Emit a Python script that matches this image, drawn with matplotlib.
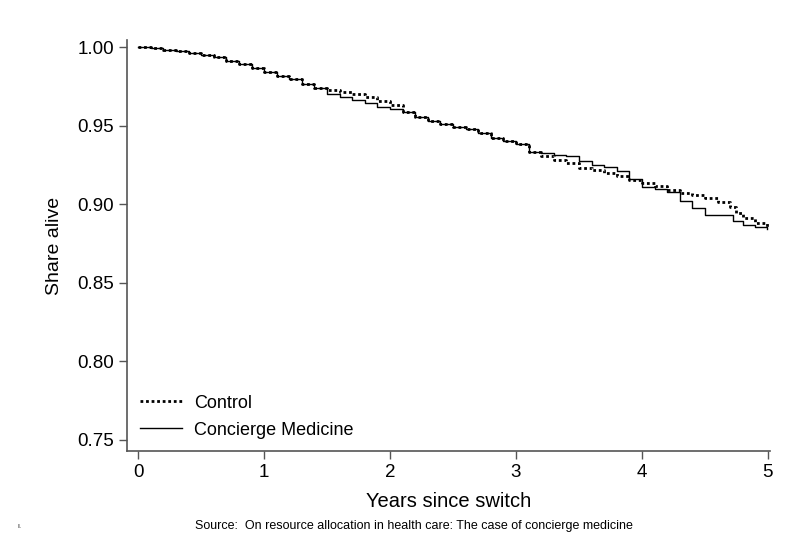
import matplotlib.pyplot as plt

# Survival curves (years since switch, share alive)
t_control = [0.00, 0.10, 0.20, 0.30, 0.40, 0.50, 0.60, 0.70, 0.80, 0.90,
             1.00, 1.10, 1.20, 1.30, 1.40, 1.50, 1.60, 1.70, 1.80, 1.90,
             2.00, 2.10, 2.20, 2.30, 2.40, 2.50, 2.60, 2.70, 2.80, 2.90,
             3.00, 3.10, 3.20, 3.30, 3.40, 3.50, 3.60, 3.70, 3.80, 3.90,
             4.00, 4.10, 4.20, 4.30, 4.40, 4.50, 4.60, 4.70, 4.75, 4.80,
             4.90, 4.99]
s_control = [1.0000, 0.9992, 0.9983, 0.9973, 0.9962, 0.9950, 0.9937, 0.9915, 0.9892, 0.9868,
             0.9845, 0.9820, 0.9795, 0.9768, 0.9740, 0.9725, 0.9712, 0.9700, 0.9680, 0.9660,
             0.9630, 0.9590, 0.9555, 0.9530, 0.9510, 0.9490, 0.9478, 0.9455, 0.9420, 0.9405,
             0.9385, 0.9330, 0.9305, 0.9285, 0.9265, 0.9232, 0.9220, 0.9200, 0.9178, 0.9155,
             0.9135, 0.9115, 0.9092, 0.9075, 0.9058, 0.9040, 0.9015, 0.8982, 0.8945, 0.8915,
             0.8880, 0.8840]

t_concierge = [0.00, 0.10, 0.20, 0.30, 0.40, 0.50, 0.60, 0.70, 0.80, 0.90,
               1.00, 1.10, 1.20, 1.30, 1.40, 1.50, 1.60, 1.70, 1.80, 1.90,
               2.00, 2.10, 2.20, 2.30, 2.40, 2.50, 2.60, 2.70, 2.80, 2.90,
               3.00, 3.10, 3.20, 3.30, 3.40, 3.50, 3.60, 3.70, 3.80, 3.90,
               4.00, 4.10, 4.20, 4.30, 4.40, 4.50, 4.60, 4.70, 4.72, 4.80,
               4.90, 4.99]
s_concierge = [1.0000, 0.9992, 0.9983, 0.9973, 0.9962, 0.9950, 0.9937, 0.9915, 0.9892, 0.9868,
               0.9845, 0.9820, 0.9795, 0.9768, 0.9740, 0.9705, 0.9680, 0.9662, 0.9645, 0.9620,
               0.9605, 0.9585, 0.9555, 0.9530, 0.9510, 0.9490, 0.9478, 0.9455, 0.9420, 0.9405,
               0.9385, 0.9330, 0.9325, 0.9315, 0.9305, 0.9278, 0.9252, 0.9240, 0.9215, 0.9160,
               0.9110, 0.9095, 0.9080, 0.9020, 0.8975, 0.8935, 0.8930, 0.8930, 0.8895, 0.8870,
               0.8855, 0.8845]

x_ticks = [0, 1, 2, 3, 4, 5]
y_ticks = [0.75, 0.80, 0.85, 0.90, 0.95, 1.00]

plt.rcParams['font.family'] = ['Liberation Sans', 'DejaVu Sans']

fig = plt.figure(figsize=(8.0, 5.58), dpi=100)
ax = fig.add_axes([0.159, 0.192, 0.804, 0.736])

ax.step(t_control, s_control, where='post', color='black', linestyle=(0, (1, 1)),
        linewidth=2.0, label='Control')
ax.step(t_concierge, s_concierge, where='post', color='black', linestyle='-',
        linewidth=1.0, label='Concierge Medicine')

ax.set_xlim(-0.087, 5.02)
ax.set_ylim(0.743, 1.0045)
ax.set_xticks(x_ticks)
ax.set_xticklabels([str(v) for v in x_ticks])
ax.set_yticks(y_ticks)
ax.set_yticklabels([f'{v:.2f}' for v in y_ticks])

for side in ['top', 'right']:
    ax.spines[side].set_visible(False)
for side in ['left', 'bottom']:
    ax.spines[side].set_color('#555555')
    ax.spines[side].set_linewidth(1.2)
ax.tick_params(axis='both', colors='#555555', labelcolor='black', labelsize=13.5,
               length=6, width=1.0)

ax.set_xlabel('Years since switch', fontsize=14.5, labelpad=8)
ax.set_ylabel('Share alive', fontsize=14, labelpad=10)

ax.legend(loc='lower left', bbox_to_anchor=(-0.005, -0.01), frameon=False,
          fontsize=13, handlelength=2.3, handletextpad=0.7, labelspacing=0.55)

fig.text(0.517, 0.058, 'Source:  On resource allocation in health care: The case of concierge medicine',
         ha='center', va='center', fontsize=9)
fig.text(0.022, 0.057, 'ı.', ha='left', va='center', fontsize=5)

fig.savefig('out.png', dpi=100)
